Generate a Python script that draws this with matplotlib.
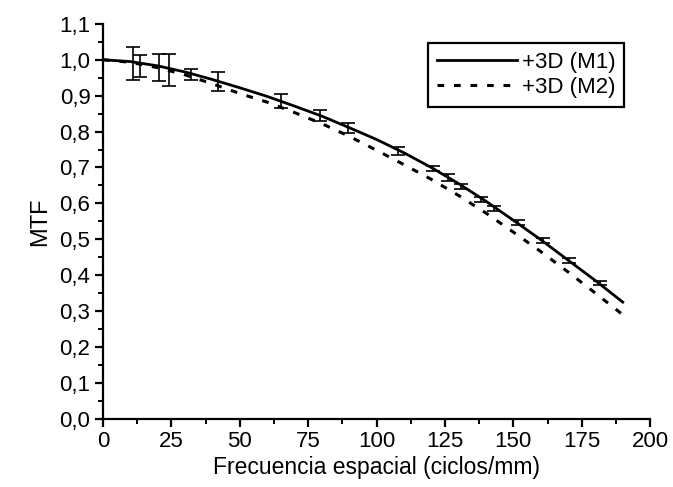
import matplotlib
matplotlib.use('Agg')
import matplotlib.pyplot as plt
from matplotlib.ticker import MultipleLocator, FuncFormatter

plt.rcParams['font.family'] = ['Liberation Sans', 'DejaVu Sans']

# Fitted MTF curves (every 10 cycles/mm)
freq = [0, 10, 20, 30, 40, 50, 60, 70, 80, 90, 100,
        110, 120, 130, 140, 150, 160, 170, 180, 190]
mtf_m1 = [1.000, 0.995, 0.983, 0.966, 0.945, 0.922, 0.898, 0.871, 0.843, 0.811, 0.778,
          0.741, 0.700, 0.655, 0.606, 0.553, 0.499, 0.442, 0.385, 0.325]
mtf_m2 = [1.000, 0.993, 0.978, 0.958, 0.933, 0.906, 0.882, 0.853, 0.822, 0.787, 0.748,
          0.708, 0.667, 0.622, 0.573, 0.520, 0.466, 0.409, 0.350, 0.290]

# Measured points with error bars
err_x = [11, 13.5, 20.5, 24, 32, 42, 65, 79.3, 89.5, 108,
         120.6, 126, 131, 138, 143, 151.7, 160.8, 170.4, 181.7]
err_y = [0.990, 0.983, 0.978, 0.972, 0.959, 0.940, 0.886, 0.845, 0.810, 0.746,
         0.696, 0.671, 0.647, 0.612, 0.586, 0.547, 0.497, 0.441, 0.379]
err_e = [0.045, 0.030, 0.038, 0.044, 0.015, 0.026, 0.019, 0.015, 0.015, 0.011,
         0.007, 0.010, 0.007, 0.007, 0.007, 0.007, 0.006, 0.006, 0.006]

fig = plt.figure(figsize=(6.73, 4.87), dpi=100)
ax = fig.add_axes([0.153, 0.140, 0.813, 0.811])

ax.errorbar(err_x, err_y, yerr=err_e, fmt='none', ecolor='black',
            elinewidth=1.2, capsize=5, capthick=1.2)
ax.plot(freq, mtf_m1, color='black', linewidth=2.0, label='+3D (M1)')
ax.plot(freq, mtf_m2, color='black', linewidth=2.2, linestyle=(0, (2.2, 3.2)),
        label='+3D (M2)')

ax.set_xlim(0, 200)
ax.set_ylim(0, 1.1)
ax.xaxis.set_major_locator(MultipleLocator(25))
ax.xaxis.set_minor_locator(MultipleLocator(12.5))
ax.yaxis.set_major_locator(MultipleLocator(0.1))
ax.yaxis.set_minor_locator(MultipleLocator(0.05))
ax.yaxis.set_major_formatter(FuncFormatter(lambda v, p: f'{v:.1f}'.replace('.', ',')))

for s in ['top', 'right']:
    ax.spines[s].set_visible(False)
for s in ['left', 'bottom']:
    ax.spines[s].set_linewidth(1.6)
ax.tick_params(which='major', direction='out', length=6, width=1.6, labelsize=16, pad=3)
ax.tick_params(which='minor', direction='out', length=3.5, width=1.4)

ax.set_xlabel('Frecuencia espacial (ciclos/mm)', fontsize=16.5, labelpad=3)
ax.set_ylabel('MTF', fontsize=17, labelpad=6)

leg = ax.legend(loc='upper right', bbox_to_anchor=(0.973, 0.98), fontsize=16,
                fancybox=False, framealpha=1, edgecolor='black',
                handlelength=3.6, borderpad=0.4, labelspacing=0.2,
                handletextpad=0.2)
leg.get_frame().set_linewidth(1.6)

fig.savefig('out.png', dpi=100)
